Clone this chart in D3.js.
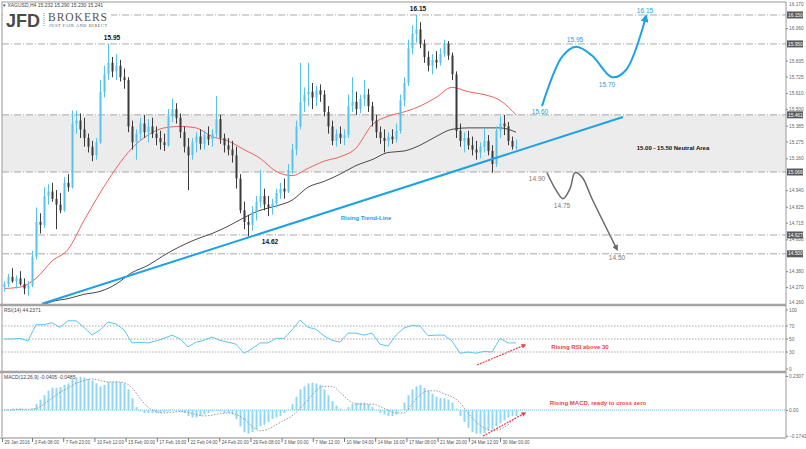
<!DOCTYPE html>
<html>
<head>
<meta charset="utf-8">
<script src="https://cdn.jsdelivr.net/npm/d3@7"></script>
<style>
    body { margin: 0; background: #fff; }
    svg { display: block; font-family: 'Liberation Sans', Arial, sans-serif; }
</style>
</head>
<body>
<svg id="chart" width="806" height="449"></svg>
<script>
// XAGUSD H4 candles (every 2nd H4 bar), prices.
const opens = [14.27,14.29,14.34,14.31,14.33,14.29,14.26,14.28,14.48,14.72,14.70,14.90,14.93,14.88,14.84,14.80,14.99,14.96,15.40,15.42,15.36,15.30,15.24,15.18,15.27,15.62,15.74,15.82,15.76,15.80,15.72,15.70,15.38,15.27,15.33,15.40,15.34,15.38,15.33,15.30,15.27,15.25,15.45,15.50,15.44,15.34,15.24,15.18,15.27,15.31,15.26,15.32,15.29,15.33,15.43,15.30,15.25,15.22,15.18,15.02,14.80,14.72,14.70,14.79,14.86,14.90,14.84,14.82,14.85,14.92,14.95,14.93,15.08,15.22,15.38,15.55,15.60,15.62,15.58,15.63,15.60,15.48,15.38,15.28,15.33,15.30,15.32,15.52,15.55,15.50,15.57,15.60,15.52,15.42,15.34,15.30,15.28,15.31,15.29,15.35,15.56,15.68,15.92,16.02,16.05,15.95,15.86,15.80,15.84,15.82,15.88,15.95,15.87,15.74,15.35,15.28,15.30,15.25,15.22,15.20,15.24,15.28,15.21,15.12,15.35,15.40,15.38,15.28,15.23];
const highs = [14.31,14.36,14.40,14.35,14.38,14.33,14.31,14.52,14.82,14.78,14.96,14.98,14.99,14.94,14.92,15.03,15.05,15.49,15.49,15.47,15.44,15.33,15.28,15.30,15.70,15.80,15.95,15.86,15.88,15.84,15.78,15.72,15.42,15.36,15.44,15.46,15.43,15.44,15.38,15.35,15.33,15.50,15.57,15.54,15.47,15.38,15.30,15.30,15.34,15.36,15.35,15.38,15.36,15.59,15.46,15.33,15.30,15.28,15.24,15.05,14.86,14.77,14.83,14.90,15.08,14.95,14.90,14.88,14.95,14.99,15.02,15.12,15.26,15.42,15.82,15.65,15.82,15.68,15.66,15.67,15.63,15.52,15.42,15.36,15.38,15.36,15.60,15.72,15.62,15.60,15.70,15.64,15.55,15.46,15.38,15.36,15.34,15.36,15.40,15.60,15.72,15.98,16.08,16.15,16.10,15.98,15.90,15.88,15.90,15.92,15.98,15.97,15.89,15.76,15.40,15.34,15.35,15.31,15.28,15.27,15.37,15.32,15.25,15.38,15.45,15.46,15.41,15.31,15.29];
const lows = [14.24,14.27,14.30,14.26,14.28,14.22,14.21,14.27,14.46,14.64,14.68,14.84,14.86,14.67,14.78,14.79,14.93,14.95,15.33,15.30,15.24,15.20,15.14,15.15,15.26,15.58,15.70,15.72,15.70,15.69,15.64,15.34,15.22,15.15,15.28,15.30,15.27,15.30,15.25,15.22,15.21,15.24,15.41,15.40,15.30,15.20,14.94,15.15,15.20,15.22,15.22,15.25,15.24,15.30,15.26,15.20,15.18,15.13,14.95,14.78,14.67,14.62,14.66,14.73,14.82,14.80,14.76,14.77,14.82,14.88,14.88,14.92,15.05,15.18,15.36,15.48,15.52,15.50,15.52,15.55,15.45,15.33,15.25,15.24,15.26,15.25,15.30,15.48,15.46,15.47,15.52,15.48,15.38,15.30,15.26,15.20,15.24,15.26,15.27,15.33,15.52,15.66,15.88,15.96,15.92,15.82,15.76,15.74,15.78,15.80,15.86,15.84,15.70,15.30,15.24,15.20,15.22,15.18,15.15,15.16,15.20,15.18,15.06,15.10,15.30,15.32,15.25,15.22,15.22];
const closes = [14.29,14.34,14.31,14.33,14.29,14.26,14.28,14.48,14.72,14.70,14.90,14.93,14.88,14.84,14.80,14.99,14.96,15.40,15.42,15.36,15.30,15.24,15.18,15.27,15.62,15.74,15.82,15.76,15.80,15.72,15.70,15.38,15.27,15.33,15.40,15.34,15.38,15.33,15.30,15.27,15.25,15.45,15.50,15.44,15.34,15.24,15.18,15.27,15.31,15.26,15.32,15.29,15.33,15.43,15.30,15.25,15.22,15.18,15.02,14.80,14.72,14.70,14.79,14.86,14.90,14.84,14.82,14.85,14.92,14.95,14.93,15.08,15.22,15.38,15.55,15.60,15.62,15.58,15.63,15.60,15.48,15.38,15.28,15.33,15.30,15.32,15.52,15.55,15.50,15.57,15.60,15.52,15.42,15.34,15.30,15.28,15.31,15.29,15.35,15.56,15.68,15.92,16.02,16.05,15.95,15.86,15.80,15.84,15.82,15.88,15.95,15.87,15.74,15.35,15.28,15.30,15.25,15.22,15.20,15.24,15.28,15.21,15.12,15.35,15.40,15.38,15.28,15.24,15.24];

// moving averages, one value every 4 candles
const maFast = [14.26,14.27,14.33,14.45,14.53,14.73,14.92,15.09,15.23,15.32,15.37,15.38,15.37,15.31,15.28,15.22,15.16,15.07,15.04,15.09,15.14,15.17,15.23,15.39,15.45,15.48,15.52,15.58,15.65,15.62,15.60,15.56,15.46];
const maSlowStart = 8;
const maSlow = [14.12,14.17,14.19,14.22,14.24,14.29,14.37,14.42,14.49,14.55,14.60,14.64,14.69,14.75,14.80,14.83,14.87,14.96,15.00,15.05,15.11,15.15,15.20,15.21,15.25,15.31,15.36,15.37,15.37,15.37,15.34];

// RSI(14), one value every 2 candles
const rsi = [50,50,51,47,72,72,75,68,78,78,68,56,64,76,73,64,44,45,44,47,51,56,50,38,45,48,53,48,45,42,28,35,44,44,51,51,64,79,68,65,55,48,45,59,59,56,59,42,39,56,67,71,70,55,56,56,47,28,30,28,31,30,51,44,44];
const rsiLevels = [70, 50, 30];

// MACD(12,26,9) histogram per candle, signal every 2 candles
const macd = [0,0,0.01,0.01,0.01,0,0,0.01,0.04,0.07,0.10,0.13,0.15,0.15,0.155,0.17,0.18,0.21,0.22,0.225,0.22,0.21,0.20,0.18,0.16,0.17,0.19,0.19,0.195,0.19,0.18,0.14,0.08,0.02,-0.01,-0.02,-0.02,-0.02,-0.02,-0.02,-0.015,-0.01,0,0,-0.01,-0.02,-0.04,-0.05,-0.05,-0.04,-0.03,-0.02,-0.01,-0.005,-0.01,-0.02,-0.02,-0.03,-0.06,-0.11,-0.15,-0.16,-0.15,-0.13,-0.11,-0.10,-0.08,-0.06,-0.05,-0.04,-0.02,0,0.04,0.09,0.14,0.16,0.18,0.185,0.18,0.17,0.14,0.10,0.06,0.03,0.01,0,0.02,0.04,0.05,0.05,0.05,0.04,0.02,0,-0.02,-0.03,-0.04,-0.04,-0.03,0,0.05,0.10,0.14,0.16,0.17,0.15,0.13,0.11,0.09,0.08,0.08,0.07,0.05,0.01,-0.04,-0.08,-0.12,-0.15,-0.16,-0.16,-0.155,-0.14,-0.13,-0.11,-0.09,-0.07,-0.05,-0.04,-0.04];
const signal = [0,0,0.005,0.005,0.01,0.04,0.08,0.12,0.15,0.18,0.20,0.21,0.20,0.19,0.19,0.185,0.15,0.08,0.02,-0.01,-0.02,-0.015,-0.01,-0.015,-0.03,-0.04,-0.035,-0.025,-0.02,-0.03,-0.06,-0.11,-0.14,-0.13,-0.10,-0.07,-0.04,0.01,0.07,0.13,0.16,0.16,0.12,0.07,0.04,0.04,0.04,0.025,0,-0.02,-0.02,0.04,0.10,0.13,0.13,0.11,0.09,0.05,-0.02,-0.08,-0.12,-0.14,-0.13,-0.10,-0.05];

// axis ticks (the ones not hidden behind the level boxes)
const priceTicks = [16.060,15.835,15.725,15.610,15.500,15.385,15.275,15.160,14.940,14.825,14.715,14.600,14.380,14.270];
const rsiTicks = [100, 70, 50, 30, 0];
const macdTicks = [0.2307, 0, -0.1741];
const dateLabels = ['29 Jan 2016','3 Feb 08:00','7 Feb 23:00','10 Feb 12:00','15 Feb 00:00','17 Feb 16:00','22 Feb 04:00','24 Feb 20:00','29 Feb 08:00','3 Mar 00:00','7 Mar 12:00','10 Mar 04:00','14 Mar 16:00','17 Mar 08:00','21 Mar 20:00','24 Mar 12:00','30 Mar 00:00'];
const dateTickBars = [-0.5,7,14.8,22.6,30.4,38.2,46,53.8,61.6,69.4,77.2,85,92.8,100.6,108.4,116.2,124];

// drawn levels and annotations
const levelPrices = [16.15, 15.95, 15.46, 15.065, 14.63, 14.50];
const levelLabels = ['16.150', '15.950', '15.461', '15.066', '14.627', '14.500'];
const trendLine = [[9.5, 14.155], [154.75, 15.445]];
const bullPath = [[134.5, 15.52], [139.5, 15.86], [143, 15.93], [147, 15.87], [152, 15.72], [155.5, 15.77], [160.5, 16.14]];
const bullLabels = [['15.60', 134, 15.48], ['15.95', 142.75, 15.98], ['15.70', 150.75, 15.67], ['16.15', 160.25, 16.18]];
const bearPath = [[135.75, 15.06], [138, 14.94], [139.75, 14.88], [141.5, 14.95], [142.75, 15.06], [144.5, 15.03], [147, 14.88], [153.25, 14.53]];
const bearLabels = [['14.90', 133.25, 15.02], ['14.75', 139.5, 14.83], ['14.50', 153.25, 14.47]];
const swingLabels = [['16.15', 103.5, 16.19], ['15.95', 27, 15.99], ['14.62', 66.5, 14.585]];

// layout
const frameLeft = 2, axisX = 786;
const mainTop = 2, mainBottom = 305;
const rsiTop = 306, rsiBottom = 372;
const macdTop = 373, macdBottom = 438;

const svg = d3.select('#chart');
const defs = svg.append('defs');

const x = d3.scaleLinear().domain([0, 128]).range([4, 516]);
const y = d3.scaleLinear().domain([14.16, 16.06]).range([303, 28]);
const yRsi = d3.scaleLinear().domain([0, 100]).range([371.5, 306.5]);
const yMacd = d3.scaleLinear().domain([-0.1741, 0.2307]).range([435.8, 375.9]);

const BULL = '#55c3ee', BEAR = '#3a3a3a', BLUE = '#1da2e6', GRID = '#9a9a9a', RED = '#ee3f4a';
const AXIS_FONT = 4.8;

function addMarker(id, color) {
    defs.append('marker')
        .attr('id', id)
        .attr('viewBox', '0 0 10 10')
        .attr('refX', 7).attr('refY', 5)
        .attr('markerWidth', 4).attr('markerHeight', 4)
        .attr('orient', 'auto')
        .append('path').attr('d', 'M0,0 L10,5 L0,10 z').attr('fill', color);
}
addMarker('arrowBlue', BLUE);
addMarker('arrowGray', '#6a6a6a');
addMarker('arrowRed', RED);

defs.append('clipPath').attr('id', 'clipMain')
    .append('rect').attr('x', frameLeft).attr('y', mainTop).attr('width', axisX - frameLeft).attr('height', mainBottom - mainTop);

const main = svg.append('g').attr('clip-path', 'url(#clipMain)');

// Neutral area band.
main.append('rect')
    .attr('x', frameLeft).attr('width', axisX - frameLeft)
    .attr('y', y(levelPrices[2])).attr('height', y(levelPrices[3]) - y(levelPrices[2]))
    .attr('fill', '#ececec');

// Dash-dot levels.
main.selectAll('.level').data(levelPrices).enter().append('line')
    .attr('x1', frameLeft).attr('x2', axisX)
    .attr('y1', d => y(d)).attr('y2', d => y(d))
    .attr('stroke', '#a8a8a8').attr('stroke-width', 1)
    .attr('stroke-dasharray', '7,2,1,2');

// Moving averages.
const line = d3.line().x(d => x(d[0])).y(d => y(d[1]));
main.append('path')
    .datum(maSlow.map((v, k) => [maSlowStart + 4 * k, v]))
    .attr('d', line.curve(d3.curveMonotoneX)).attr('fill', 'none').attr('stroke', '#4a4a4a').attr('stroke-width', 1);
main.append('path')
    .datum(maFast.map((v, k) => [4 * k, v]))
    .attr('d', line.curve(d3.curveMonotoneX)).attr('fill', 'none').attr('stroke', '#f2625f').attr('stroke-width', 1);

// Candles.
const candles = opens.map((o, i) => ({ i, o, h: highs[i], l: lows[i], c: closes[i] }));
const cg = main.append('g');
cg.selectAll('.wick').data(candles).enter().append('line')
    .attr('x1', d => x(d.i) + 0.5).attr('x2', d => x(d.i) + 0.5)
    .attr('y1', d => y(d.h)).attr('y2', d => y(d.l))
    .attr('stroke', d => (d.c >= d.o ? BULL : BEAR)).attr('stroke-width', 1);
cg.selectAll('.body').data(candles).enter().append('rect')
    .attr('x', d => x(d.i) - 0.5).attr('width', 2)
    .attr('y', d => y(Math.max(d.o, d.c)))
    .attr('height', d => Math.max(1, Math.abs(y(d.o) - y(d.c))))
    .attr('fill', d => (d.c >= d.o ? BULL : BEAR));

// Rising trend line.
main.append('path').datum(trendLine)
    .attr('d', d3.line().x(d => x(d[0])).y(d => y(d[1])))
    .attr('stroke', BLUE).attr('stroke-width', 2).attr('fill', 'none');

// Scenario arrows.
const curve = d3.line().x(d => x(d[0])).y(d => y(d[1])).curve(d3.curveCatmullRom.alpha(0.5));
main.append('path').datum(bullPath).attr('d', curve)
    .attr('fill', 'none').attr('stroke', BLUE).attr('stroke-width', 2).attr('marker-end', 'url(#arrowBlue)');
main.append('path').datum(bearPath).attr('d', curve)
    .attr('fill', 'none').attr('stroke', '#6a6a6a').attr('stroke-width', 1.5).attr('marker-end', 'url(#arrowGray)');

main.selectAll('.bullLbl').data(bullLabels).enter().append('text')
    .attr('x', d => x(d[1])).attr('y', d => y(d[2])).attr('dy', '0.35em')
    .attr('text-anchor', 'middle').attr('font-size', 6.5).attr('fill', BLUE).text(d => d[0]);
main.selectAll('.bearLbl').data(bearLabels).enter().append('text')
    .attr('x', d => x(d[1])).attr('y', d => y(d[2])).attr('dy', '0.35em')
    .attr('text-anchor', 'middle').attr('font-size', 6.5).attr('fill', '#777').text(d => d[0]);
main.selectAll('.swingLbl').data(swingLabels).enter().append('text')
    .attr('x', d => x(d[1])).attr('y', d => y(d[2])).attr('dy', '0.35em')
    .attr('text-anchor', 'middle').attr('font-size', 6.5).attr('font-weight', 'bold').attr('fill', '#111').text(d => d[0]);

main.append('text').attr('x', x(167.25)).attr('y', y(15.23)).attr('dy', '0.35em')
    .attr('text-anchor', 'middle').attr('font-size', 6).attr('font-weight', 'bold').attr('fill', '#111')
    .text('15.00 - 15.50 Neutral Area');
main.append('text').attr('x', x(90.5)).attr('y', y(14.75)).attr('dy', '0.35em')
    .attr('text-anchor', 'middle').attr('font-size', 6).attr('font-weight', 'bold').attr('fill', BLUE)
    .text('Rising Trend-Line');

// Logo.
const logo = svg.append('g');
logo.append('rect').attr('x', 3).attr('y', 9).attr('width', 108).attr('height', 21).attr('fill', '#fff');
logo.append('text').attr('x', 6).attr('y', 27).attr('font-size', 18).attr('font-weight', 'bold')
    .attr('fill', '#4b4b4b').text('JFD');
logo.append('line').attr('x1', 44).attr('x2', 44).attr('y1', 13).attr('y2', 27)
    .attr('stroke', '#888').attr('stroke-dasharray', '1,1');
logo.append('text').attr('x', 48).attr('y', 20.5).attr('font-size', 11.5)
    .attr('font-family', "'Liberation Serif', serif").attr('fill', '#555')
    .attr('textLength', 59).text('BROKERS');
logo.append('text').attr('x', 49).attr('y', 27).attr('font-size', 4.2)
    .attr('font-family', "'Liberation Serif', serif").attr('fill', '#555')
    .attr('textLength', 58).text('JUST FAIR AND DIRECT');

svg.append('text').attr('x', 3).attr('y', 7).attr('font-size', 5).attr('fill', '#444')
    .text('▾ XAGUSD,H4  15.232 15.290 15.230 15.241');

// RSI panel.
svg.selectAll('.rsiLevel').data(rsiLevels).enter().append('line')
    .attr('x1', frameLeft).attr('x2', axisX)
    .attr('y1', d => yRsi(d)).attr('y2', d => yRsi(d))
    .attr('stroke', '#aaa').attr('stroke-dasharray', '1.5,1.5');
svg.append('path').datum(rsi.map((v, k) => [2 * k, v]))
    .attr('d', d3.line().x(d => x(d[0])).y(d => yRsi(d[1])))
    .attr('fill', 'none').attr('stroke', '#5cc6f0').attr('stroke-width', 1);
svg.append('text').attr('x', 4).attr('y', 312).attr('font-size', 5).attr('fill', '#444').text('RSI(14) 44.2371');

// RSI note.
svg.append('line')
    .attr('x1', x(118.25)).attr('y1', yRsi(10)).attr('x2', x(130.25)).attr('y2', yRsi(40.8))
    .attr('stroke', RED).attr('stroke-width', 1.2).attr('stroke-dasharray', '2,1').attr('marker-end', 'url(#arrowRed)');
svg.append('text').attr('x', x(144)).attr('y', yRsi(37.7)).attr('dy', '0.35em')
    .attr('text-anchor', 'middle').attr('font-size', 6).attr('font-weight', 'bold').attr('fill', RED)
    .text('Rising RSI above 30');

// MACD panel.
svg.append('line').attr('x1', frameLeft).attr('x2', axisX).attr('y1', yMacd(0)).attr('y2', yMacd(0))
    .attr('stroke', '#5cc6f0').attr('stroke-dasharray', '1,1');
svg.selectAll('.hist').data(macd).enter().append('rect')
    .attr('x', (d, i) => x(i) - 0.5).attr('width', 2)
    .attr('y', d => yMacd(Math.max(0, d)))
    .attr('height', d => Math.abs(yMacd(d) - yMacd(0)))
    .attr('fill', '#8fd8f6');
svg.append('path').datum(signal.map((v, k) => [2 * k, v]))
    .attr('d', d3.line().x(d => x(d[0])).y(d => yMacd(d[1])).curve(d3.curveMonotoneX))
    .attr('fill', 'none').attr('stroke', '#999').attr('stroke-width', 1).attr('stroke-dasharray', '1.5,1.5');
svg.append('text').attr('x', 4).attr('y', 379).attr('font-size', 5).attr('fill', '#444').text('MACD(12,26,9) -0.0405 -0.0485');

svg.append('line')
    .attr('x1', x(119.75)).attr('y1', yMacd(-0.176)).attr('x2', x(130.25)).attr('y2', yMacd(-0.02))
    .attr('stroke', RED).attr('stroke-width', 1.2).attr('stroke-dasharray', '2,1').attr('marker-end', 'url(#arrowRed)');
svg.append('text').attr('x', x(148.5)).attr('y', yMacd(0.047)).attr('dy', '0.35em')
    .attr('text-anchor', 'middle').attr('font-size', 6).attr('font-weight', 'bold').attr('fill', RED)
    .text('Rising MACD, ready to cross zero');

// Frame and panel separators.
svg.append('rect').attr('x', frameLeft).attr('y', mainTop).attr('width', axisX - frameLeft).attr('height', macdBottom - mainTop)
    .attr('fill', 'none').attr('stroke', GRID).attr('stroke-width', 1);
[mainBottom, rsiBottom].forEach(v => {
    svg.append('line').attr('x1', 0).attr('x2', axisX).attr('y1', v).attr('y2', v)
        .attr('stroke', '#a4a4a4').attr('stroke-width', 2.5);
});
svg.append('line').attr('x1', 0).attr('x2', axisX).attr('y1', macdBottom).attr('y2', macdBottom)
    .attr('stroke', '#c4c4c4').attr('stroke-width', 2);

// Price axis.
const priceAxis = svg.append('g').attr('transform', `translate(${axisX},0)`)
    .call(d3.axisRight(y).tickValues(priceTicks).tickSize(2).tickPadding(1).tickFormat(d3.format('.3f')));
const rsiAxis = svg.append('g').attr('transform', `translate(${axisX},0)`)
    .call(d3.axisRight(yRsi).tickValues(rsiTicks).tickSize(2).tickPadding(1));
rsiAxis.selectAll('.tick').attr('transform', d => `translate(0,${Math.min(Math.max(yRsi(d), rsiTop + 4), rsiBottom - 3)})`);
const macdAxis = svg.append('g').attr('transform', `translate(${axisX},0)`)
    .call(d3.axisRight(yMacd).tickValues(macdTicks).tickSize(2).tickPadding(1)
        .tickFormat(d => (d === 0 ? '0.00' : d3.format('.4f')(d))));
[priceAxis, rsiAxis, macdAxis].forEach(g => {
    g.select('.domain').remove();
    g.selectAll('line').attr('stroke', '#888');
    g.selectAll('text').attr('font-size', AXIS_FONT).attr('fill', '#666');
});
svg.append('text').attr('x', axisX + 3).attr('y', 4).attr('dy', '0.35em').attr('font-size', AXIS_FONT)
    .attr('fill', '#666').text('16.170');
svg.append('text').attr('x', axisX + 3).attr('y', 302).attr('dy', '0.35em').attr('font-size', AXIS_FONT)
    .attr('fill', '#666').text('14.160');

// Level price boxes on the axis.
const boxes = svg.append('g');
boxes.selectAll('rect').data(levelPrices).enter().append('rect')
    .attr('x', axisX + 1).attr('y', d => y(d) - 3.5).attr('width', 16).attr('height', 7).attr('fill', '#5a5a5a');
boxes.selectAll('text').data(levelPrices).enter().append('text')
    .attr('x', axisX + 2).attr('y', d => y(d)).attr('dy', '0.35em')
    .attr('font-size', AXIS_FONT).attr('fill', '#fff')
    .text((d, i) => levelLabels[i]);

// Date axis.
const dateAxis = svg.append('g').attr('transform', `translate(0,${macdBottom})`)
    .call(d3.axisBottom(x).tickValues(dateTickBars).tickSize(4).tickFormat((d, i) => dateLabels[i]));
dateAxis.select('.domain').remove();
dateAxis.selectAll('line').attr('stroke', '#777');
dateAxis.selectAll('text').attr('text-anchor', 'start').attr('x', 2).attr('y', 2.5).attr('dy', '0.71em')
    .attr('font-size', 4.6).attr('fill', '#555');
</script>
</body>
</html>
